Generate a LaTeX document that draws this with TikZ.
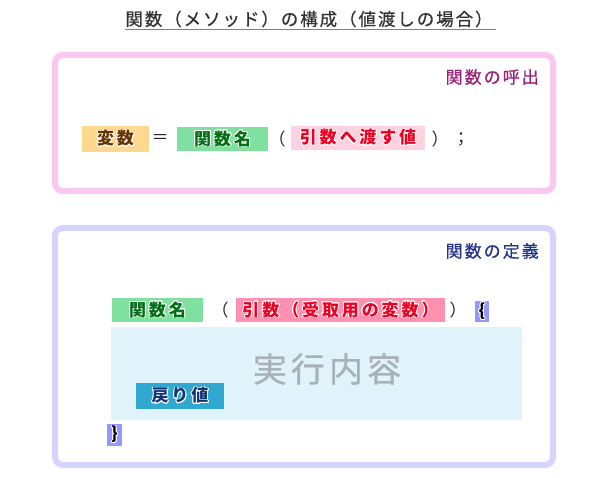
\documentclass[tikz,border=0pt]{standalone}
\usepackage{fontspec}
\usepackage{xcolor}
\usepackage{contour}
\setmainfont{Noto Sans CJK JP}
\contourlength{0.9pt}
\definecolor{callpink}{RGB}{248, 200, 240}
\definecolor{deflavender}{RGB}{212, 212, 255}
\definecolor{callpurple}{RGB}{153, 34, 119}
\definecolor{defnavy}{RGB}{34, 51, 136}
\definecolor{varorange}{RGB}{255, 216, 144}
\definecolor{varbrown}{RGB}{102, 51, 0}
\definecolor{funcgreen}{RGB}{128, 224, 160}
\definecolor{funcdark}{RGB}{0, 110, 20}
\definecolor{argpale}{RGB}{255, 210, 224}
\definecolor{argpink}{RGB}{255, 144, 176}
\definecolor{argred}{RGB}{238, 0, 34}
\definecolor{retblue}{RGB}{48, 168, 208}
\definecolor{retnavy}{RGB}{17, 51, 119}
\definecolor{bracepurple}{RGB}{150, 150, 255}
\definecolor{bodysky}{RGB}{224, 242, 250}
\definecolor{bodygray}{RGB}{168, 176, 184}

\begin{document}
\begin{tikzpicture}[x=1pt, y=-1pt,
    chip/.style={fill=#1, inner sep=0pt, font=\fontsize{17}{20}\selectfont\bfseries\addfontfeature{LetterSpace=17}},
    sign/.style={inner sep=0pt, text=black!85, font=\fontsize{17}{20}\selectfont},
    heading/.style={anchor=east, inner sep=0pt, font=\fontsize{17}{20}\selectfont\addfontfeature{LetterSpace=12,FakeBold=0.6}},
    frame/.style={draw=#1, line width=6pt, rounded corners=8pt}]
    \useasboundingbox (0,0) rectangle (600,478);

    \node[inner sep=0pt, text=black!80, font=\fontsize{17.5}{20}\selectfont\addfontfeature{LetterSpace=11,FakeBold=0.6}] (title) at (309,19) {関数（メソッド）の構成（値渡しの場合）};
    \draw[black!50, line width=1.5pt] ([yshift=-2pt]title.south west) -- ([yshift=-2pt,xshift=3pt]title.south east);

    % calling the function
    \draw[frame=callpink] (55,55) rectangle (553,191);
    \node[heading, text=callpurple] (callhead) at (539,77) {関数の呼出};

    \node[chip=varorange, text=varbrown, minimum width=67, minimum height=26] (var) at (115.5,139) {\contour{white}{変数}};
    \node[sign] (eq) at (160,139) {＝};
    \node[chip=funcgreen, text=funcdark, minimum width=91, minimum height=24] (callname) at (222.5,139) {\contour{white}{関数名}};
    \node[sign] (callopen) at (277,139) {（};
    \node[chip=argpale, text=argred, minimum width=134, minimum height=24] (callarg) at (358,138) {\contour{white}{引数へ渡す値}};
    \node[sign] (callclose) at (440,139) {）};
    \node[sign] (semi) at (461,139) {；};

    % defining the function
    \draw[frame=deflavender] (55,228) rectangle (553,465);
    \node[heading, text=defnavy] (defhead) at (539,251) {関数の定義};

    \node[chip=funcgreen, text=funcdark, minimum width=91, minimum height=24] (defname) at (157.5,310) {\contour{white}{関数名}};
    \node[sign] (defopen) at (220,310) {（};
    \node[chip=argpink, text=argred, minimum width=209, minimum height=24] (defarg) at (340.5,310) {\contour{white}{引数（受取用の変数）}};
    \node[sign] (defclose) at (458,310) {）};
    \node[chip=bracepurple, text=black, minimum width=14, minimum height=21] (open) at (482,311.5) {\contour{white}{\{}};

    \node[fill=bodysky, minimum width=411, minimum height=93, inner sep=0pt] (body) at (316.5,373.5) {};
    \node[inner sep=0pt, text=bodygray, font=\fontsize{34}{40}\selectfont\addfontfeature{LetterSpace=12,FakeBold=0.5}] (task) at (327,369) {実行内容};
    \node[chip=retblue, text=retnavy, minimum width=88, minimum height=26] (ret) at (180,396) {\contour{white}{戻り値}};

    \node[chip=bracepurple, text=black, minimum width=15, minimum height=22] (close) at (114.5,435) {\contour{white}{\}}};
\end{tikzpicture}
\end{document}
